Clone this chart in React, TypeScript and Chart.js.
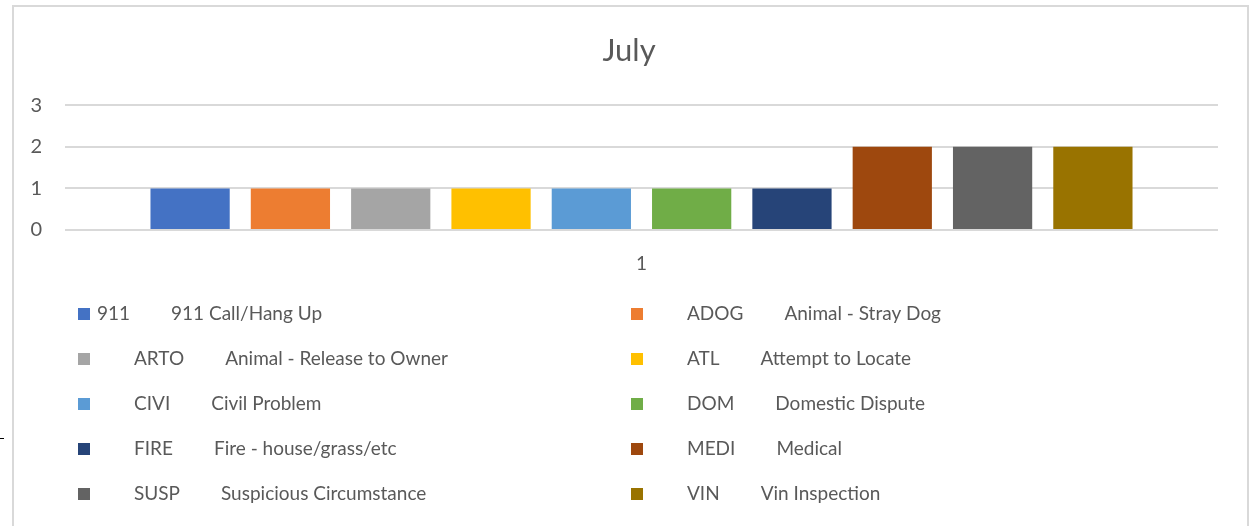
import React, { useEffect, useRef } from "react";
import { Chart, registerables } from "chart.js";

Chart.register(...registerables);

const chartTitle = "July";
const categories = ["1"];
const seriesLabels = [
  "911\t911 Call/Hang Up",
  "\tADOG\tAnimal - Stray Dog",
  "\tARTO\tAnimal - Release to Owner",
  "\tATL\tAttempt to Locate",
  "\tCIVI\tCivil Problem",
  "\tDOM\tDomestic Dispute",
  "\tFIRE\tFire - house/grass/etc",
  "\tMEDI\tMedical",
  "\tSUSP\tSuspicious Circumstance",
  "\tVIN\tVin Inspection",
];
const seriesValues = [1, 1, 1, 1, 1, 1, 1, 2, 2, 2];
const seriesColors = [
  "#4472C4",
  "#ED7D31",
  "#A5A5A5",
  "#FFC000",
  "#5B9BD5",
  "#70AD47",
  "#264478",
  "#9E480E",
  "#636363",
  "#997300",
];
const yMin = 0;
const yMax = 3;
const yStep = 1;

const FONT = "Lato, 'Open Sans', sans-serif";
const TEXT = "#595959";
const GRID = "#d9d9d9";

const legendPlugin = {
  id: "tabLegend",
  afterDraw(chart: any) {
    const ctx = chart.ctx as CanvasRenderingContext2D;
    ctx.save();
    ctx.font = `19px ${FONT}`;
    ctx.textBaseline = "middle";
    ctx.textAlign = "left";
    chart.data.datasets.forEach((ds: any, i: number) => {
      const col = i % 2;
      const row = Math.floor(i / 2);
      const mx = col === 0 ? 78 : 631;
      const my = 314 + row * 45;
      ctx.fillStyle = ds.backgroundColor;
      ctx.fillRect(mx, my - 6, 12, 12);
      ctx.fillStyle = TEXT;
      let x = mx + 12 + 7;
      const parts = String(ds.label).split("\t");
      parts.forEach((p: string, k: number) => {
        if (k > 0) x += k === 1 && parts[0] === "" ? 37 : 41;
        if (p) {
          ctx.fillText(p, x, my);
          x += ctx.measureText(p).width;
        }
      });
    });
    ctx.restore();
  },
};

export default function App() {
  const ref = useRef<HTMLCanvasElement>(null);
  useEffect(() => {
    if (!ref.current) return;
    const chart = new Chart(ref.current, {
      type: "bar",
      data: {
        labels: categories,
        datasets: seriesLabels.map((label, i) => ({
          label,
          data: [seriesValues[i]],
          backgroundColor: seriesColors[i],
          borderWidth: 0,
          categoryPercentage: 0.87,
          barPercentage: 0.79,
        })),
      },
      options: {
        responsive: false,
        animation: false,
        layout: { padding: { top: 20, left: 7, right: 0, bottom: 236 } },
        plugins: {
          legend: { display: false },
          tooltip: { enabled: false },
          title: {
            display: true,
            text: chartTitle,
            color: TEXT,
            font: { family: FONT, size: 31, weight: "normal" },
            padding: { top: 12, bottom: 36 },
          },
        },
        scales: {
          x: {
            grid: { display: false },
            border: { display: false },
            ticks: { color: TEXT, font: { family: FONT, size: 19 }, padding: 14 },
            afterFit: (s: any) => {
              s.height = 60;
            },
          },
          y: {
            min: yMin,
            max: yMax,
            ticks: { stepSize: yStep, color: TEXT, font: { family: FONT, size: 20 }, padding: 23 },
            grid: { color: GRID, lineWidth: 2, drawTicks: false },
            border: { display: false },
            afterFit: (s: any) => {
              s.width = 58;
            },
          },
          yRightSpace: {
            type: "linear",
            position: "right",
            display: true,
            grid: { display: false, drawTicks: false },
            border: { display: false },
            ticks: { display: false },
            afterFit: (s: any) => {
              s.width = 33;
            },
          },
        },
      },
      plugins: [legendPlugin],
    });
    return () => chart.destroy();
  }, []);

  return (
    <div style={{ position: "fixed", left: 0, top: 0, width: 1251, height: 526, background: "#fff", overflow: "hidden" }}>
      <canvas ref={ref} width={1251} height={526} style={{ display: "block", position: "absolute", left: 0, top: 0 }} />
      <div
        style={{
          position: "absolute",
          left: 12,
          top: 5,
          width: 1237,
          height: 560,
          border: `2px solid ${GRID}`,
          boxSizing: "border-box",
          pointerEvents: "none",
        }}
      />
      <div style={{ position: "absolute", left: 0, top: 438, width: 4, height: 1, background: "#000" }} />
    </div>
  );
}
